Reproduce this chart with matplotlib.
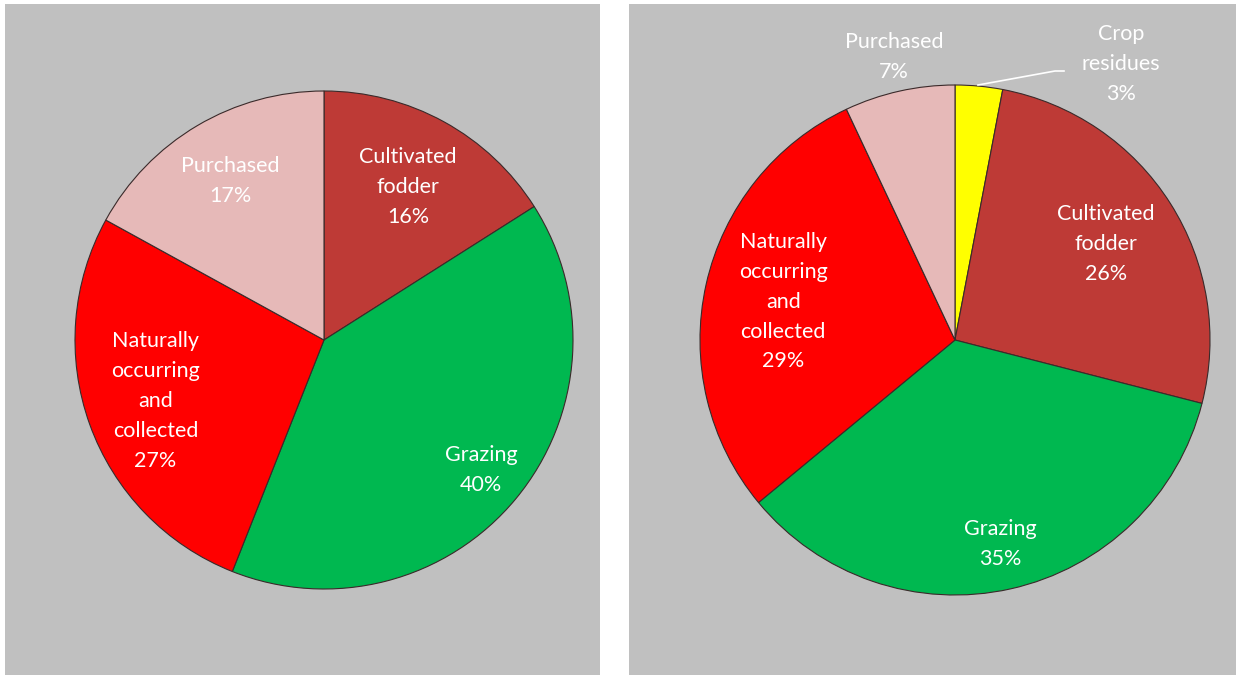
import numpy as np
import matplotlib.pyplot as plt

# datos de los dos gráficos
left_labels = ["Cultivated\nfodder", "Grazing", "Naturally\noccurring\nand\ncollected", "Purchased"]
left_values = [16, 40, 27, 17]
left_colors = ["#be3a36", "#00b850", "#ff0000", "#e6b9b8"]

right_labels = ["Crop\nresidues", "Cultivated\nfodder", "Grazing", "Naturally\noccurring\nand\ncollected", "Purchased"]
right_values = [3, 26, 35, 29, 7]
right_colors = ["#ffff00", "#be3a36", "#00b850", "#ff0000", "#e6b9b8"]

W, H = 1236, 675
FS, LS = 15.5, 1.62
fig = plt.figure(figsize=(W / 100, H / 100), dpi=100)
fig.patch.set_facecolor("white")


def panel(x0, x1, y0, y1):
    ax = fig.add_axes([x0 / W, 1 - y1 / H, (x1 - x0) / W, (y1 - y0) / H])
    return ax, (x0, x1, H - y1, H - y0)


def draw_pie(ax, lims, center, radius, values, labels, colors, dists):
    cx, cy = center[0], H - center[1]
    wedges, _ = ax.pie(values, colors=colors, startangle=90, counterclock=False,
                       center=(cx, cy), radius=radius, frame=True,
                       wedgeprops=dict(edgecolor="#3a2a2a", linewidth=0.8))
    ax.set_xlim(lims[0], lims[1])
    ax.set_ylim(lims[2], lims[3])
    ax.set_facecolor("#c0c0c0")
    ax.set_xticks([])
    ax.set_yticks([])
    for s in ax.spines.values():
        s.set_visible(False)
    total = sum(values)
    start = 0.0
    for v, lab, d in zip(values, labels, dists):
        mid = (start + v / 2) / total * 2 * np.pi
        start += v
        if d is None:
            continue
        x = cx + d * radius * np.sin(mid)
        y = cy + d * radius * np.cos(mid)
        ax.text(x, y, f"{lab}\n{v}%", color="white", fontsize=FS, family="Lato",
                ha="center", va="center", linespacing=LS)
    return wedges


ax1, lim1 = panel(5, 600, 4, 675)
draw_pie(ax1, lim1, (324, 340), 249, left_values, left_labels, left_colors,
         [0.70, 0.82, 0.72, 0.74])

ax2, lim2 = panel(629, 1236, 4, 675)
draw_pie(ax2, lim2, (955, 340), 255, right_values, right_labels, right_colors,
         [None, 0.70, 0.82, 0.69, None])

# etiquetas fuera del círculo
ax2.text(894, H - 57, "Purchased\n7%", color="white", fontsize=FS, family="Lato",
         ha="center", va="center", linespacing=LS)
ax2.text(1121, H - 64, "Crop\nresidues\n3%", color="white", fontsize=FS, family="Lato",
         ha="center", va="center", linespacing=LS)
ax2.plot([1064, 1055, 978], [H - 71, H - 71, H - 85], color="white", linewidth=1.2)

fig.savefig("out.png", dpi=100)
